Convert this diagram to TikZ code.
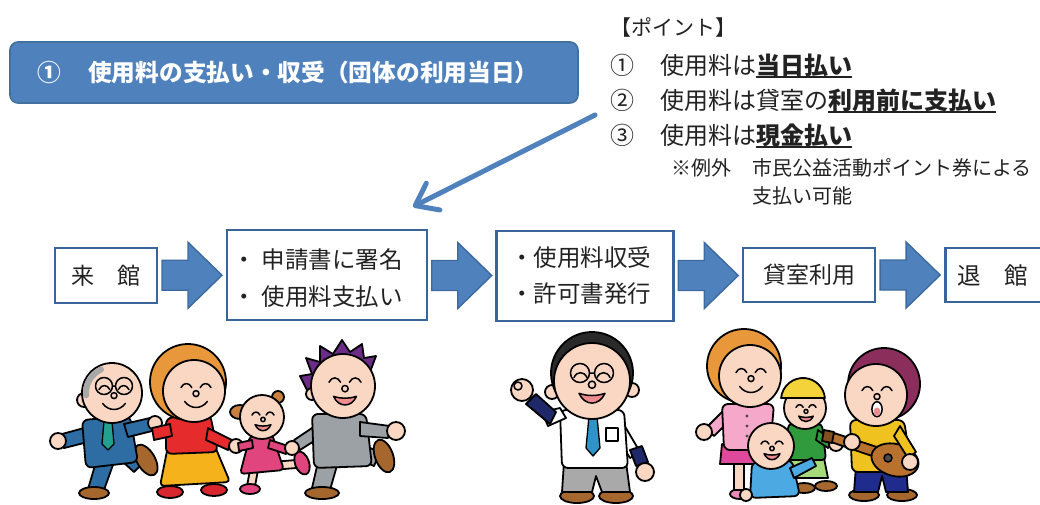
\documentclass[tikz,border=0pt]{standalone}
\usepackage{fontspec}
\setmainfont{Noto Sans CJK JP}
\usetikzlibrary{arrows.meta,calc}

\definecolor{hdrfill}{HTML}{4F81BD}
\definecolor{hdrline}{HTML}{41719C}
\definecolor{boxline}{HTML}{3A659A}
\definecolor{arrline}{HTML}{3C6A9E}
\definecolor{txt}{HTML}{222222}
% cartoon palette
\definecolor{skin}{HTML}{FAD7C3}
\definecolor{hairgray}{HTML}{A8A8A8}
\definecolor{suitA}{HTML}{2E6DA4}
\definecolor{tieteal}{HTML}{23A08E}
\definecolor{shoe}{HTML}{A5672E}
\definecolor{hairO}{HTML}{E8983A}
\definecolor{sweaterR}{HTML}{E52B2B}
\definecolor{skirtY}{HTML}{F6B21B}
\definecolor{shoeR}{HTML}{D7262E}
\definecolor{hairBr}{HTML}{C9803F}
\definecolor{pinkD}{HTML}{E0457E}
\definecolor{suitG}{HTML}{9CA1A6}
\definecolor{hairP}{HTML}{6A2C86}
\definecolor{pantsG}{HTML}{A9A9A9}
\definecolor{navy}{HTML}{1F2869}
\definecolor{tieB}{HTML}{2E93C6}
\definecolor{hairK}{HTML}{2A2A2A}
\definecolor{cardP}{HTML}{F5A8CA}
\definecolor{skirtM}{HTML}{E0489B}
\definecolor{pinkS}{HTML}{EE8AB8}
\definecolor{shortsG}{HTML}{A6D97A}
\definecolor{shirtG}{HTML}{2F9B3C}
\definecolor{capY}{HTML}{F3D23A}
\definecolor{babyB}{HTML}{4CA9E2}
\definecolor{pantsN}{HTML}{1F2C8E}
\definecolor{shirtY}{HTML}{EFC21F}
\definecolor{guitarB}{HTML}{B9712E}
\definecolor{hairM}{HTML}{8C2E5C}
\definecolor{tongue}{HTML}{EE8C8E}

% bold text with a rule underneath
\newcommand\ulbold[1]{{\setbox0\hbox{\bfseries #1}\rlap{\rule[-3.8pt]{\wd0}{1.5pt}}\box0}}

\tikzset{
  titlebox/.style={draw=hdrline, line width=1.6pt, fill=hdrfill, rounded corners=8pt, inner sep=0pt},
  hdrtext/.style={text=white, font=\fontsize{23.7}{23.7}\selectfont\bfseries, inner sep=0pt, anchor=base west},
  pthead/.style={text=txt, font=\fontsize{21}{21}\selectfont, inner sep=0pt, anchor=base west},
  ptline/.style={text=txt, font=\fontsize{24}{24}\selectfont, inner sep=0pt, anchor=base west},
  ptnote/.style={text=txt, font=\fontsize{20}{20}\selectfont, inner sep=0pt, anchor=base west},
  flowbox/.style={draw=boxline, line width=2.6pt, fill=white, inner sep=0pt,
                  text=txt, font=\fontsize{23}{23}\selectfont},
  flowtext/.style={text=txt, font=\fontsize{23.5}{23.5}\selectfont, inner sep=0pt, anchor=base west},
  pointer/.style={draw=hdrfill, line width=5pt, line cap=round,
                  -{Straight Barb[length=20pt,width=30pt,round]}},
  pics/blockarrow/.style={code={
    \draw[fill=hdrfill, draw=arrline, line width=1.4pt, line join=miter]
      (-30,-15) -- (-4,-15) -- (-4,-33) -- (30,0) -- (-4,33) -- (-4,15) -- (-30,15) -- cycle;
  }},
  toonline/.style={draw=black, line width=1.8pt, line join=round, line cap=round},
  toonfeat/.style={draw=black, line width=1.5pt, line cap=round, line join=round},
  pics/toonsmile/.style={code={
    \draw[toonfeat] (-0.5,-0.18) .. controls (-0.42,-0.36) and (-0.22,-0.36) .. (-0.14,-0.18);
    \draw[toonfeat] (0.14,-0.18) .. controls (0.22,-0.36) and (0.42,-0.36) .. (0.5,-0.18);
    \draw[toonfeat, fill=skin] (0,0.02) circle (0.1);
    \draw[toonfeat] (-0.38,0.28) .. controls (-0.18,0.55) and (0.18,0.55) .. (0.38,0.28);
  }},
  pics/toontalk/.style={code={
    \draw[toonfeat] (-0.5,-0.18) .. controls (-0.42,-0.36) and (-0.22,-0.36) .. (-0.14,-0.18);
    \draw[toonfeat] (0.14,-0.18) .. controls (0.22,-0.36) and (0.42,-0.36) .. (0.5,-0.18);
    \draw[toonfeat, fill=skin] (0,0.02) circle (0.1);
    \draw[toonfeat, fill=tongue] (-0.36,0.26) .. controls (-0.2,0.62) and (0.2,0.62) .. (0.36,0.26)
      .. controls (0.12,0.34) and (-0.12,0.34) .. (-0.36,0.26) -- cycle;
  }},
  pics/toonsing/.style={code={
    \draw[toonfeat] (-0.5,-0.18) .. controls (-0.42,-0.36) and (-0.22,-0.36) .. (-0.14,-0.18);
    \draw[toonfeat] (0.14,-0.18) .. controls (0.22,-0.36) and (0.42,-0.36) .. (0.5,-0.18);
    \draw[toonfeat, fill=skin] (0,0.02) circle (0.1);
    \draw[toonfeat, fill=white] (0,0.44) ellipse (0.17 and 0.25);
    \fill[tongue] (0,0.52) ellipse (0.11 and 0.14);
  }},
}

\begin{document}
\begin{tikzpicture}[x=1pt,y=-1pt]
\useasboundingbox (0,0) rectangle (1040,504);
\fill[white] (0,0) rectangle (1040,504);

% ---------- heading bar ----------
\node[titlebox, minimum width=568pt, minimum height=61pt] (title) at (294,72.5) {};
\node[hdrtext] (titlenum) at (37,81.5) {①};
\node[hdrtext] (titletext) at (88,81.5) {使用料の支払い・収受（団体の利用当日）};

% ---------- points ----------
\node[pthead] (pthead) at (610,35) {【ポイント】};
\node[ptline] (pn1) at (610,74) {①};
\node[ptline] (pt1) at (660,74) {使用料は\ulbold{当日払い}};
\node[ptline] (pn2) at (610,109) {②};
\node[ptline] (pt2) at (660,109) {使用料は貸室の\ulbold{利用前に支払い}};
\node[ptline] (pn3) at (610,144) {③};
\node[ptline] (pt3) at (660,144) {使用料は\ulbold{現金払い}};
\node[ptnote] (ex) at (671,175.6) {※例外};
\node[ptnote] (ex1) at (752,175.6) {市民公益活動ポイント券による};
\node[ptnote] (ex2) at (752,203.6) {支払い可能};

% ---------- flow ----------
\node[flowbox, minimum width=102pt, minimum height=55pt] (b1) at (106,275.5) {来　館};
\node[flowbox, minimum width=200pt, minimum height=90pt] (b2) at (327,275) {};
\node[flowtext] (b2a) at (232,268) {・\hspace{0.25em}申請書に署名};
\node[flowtext] (b2b) at (232,305) {・\hspace{0.25em}使用料支払い};
\node[flowbox, minimum width=177pt, minimum height=90pt] (b3) at (585,276) {};
\node[flowtext] (b3a) at (510,266.7) {・使用料収受};
\node[flowtext] (b3b) at (510,302.7) {・許可書発行};
\node[flowbox, minimum width=132pt, minimum height=54pt] (b4) at (809,275) {貸室利用};
\node[flowbox, minimum width=132pt, minimum height=54pt, anchor=west] (b5) at (944,275) {};
\node[flowtext] (b5t) at (957,284) {退　館};

\pic at ($(b1.east)!0.5!(b2.west)$) {blockarrow};
\pic at ($(b2.east)!0.5!(b3.west)$) {blockarrow};
\pic at ($(b3.east)!0.5!(b4.west)$) {blockarrow};
\pic at ($(b4.east)!0.5!(b5.west)$) {blockarrow};

% pointer from the points list down to the application step
\coordinate (ptrtail) at (595,115);
\coordinate (ptrtip) at ($(b2.north)+(86,-22)$);
\draw[pointer] (ptrtail) -- (ptrtip);

% ---------- visitors arriving ----------
% grandfather
\draw[toonline, fill=suitA] (96,462) -- (88,489) -- (104,490) -- (114,462) -- cycle;
\draw[toonline, fill=shoe] (94,493) ellipse (15 and 6);
\draw[toonline, fill=suitA] (112,452) -- (134,472) -- (146,460) -- (126,442) -- cycle;
\draw[toonline, fill=shoe, rotate around={30:(146,460)}] (146,460) ellipse (9 and 17);
\draw[toonline, fill=suitA] (84,428) -- (62,434) -- (64,448) -- (88,442) -- cycle;
\draw[toonline, fill=skin] (58,441) circle (8);
\draw[toonline, fill=suitA, rounded corners=6pt] (82,420) -- (130,416) -- (138,462) -- (86,468) -- cycle;
\draw[toonline, fill=tieteal, line width=1.3pt] (104,421) -- (112,421) -- (114,444) -- (108,450) -- (102,444) -- cycle;
\draw[toonline, fill=suitA] (124,424) -- (150,418) -- (152,431) -- (128,437) -- cycle;
\draw[toonline, fill=skin] (155,423) circle (7);
\draw[toonline, fill=skin] (84,400) circle (7);
\draw[toonline, fill=skin] (112,393) circle (30);
\draw[line width=6pt, hairgray, line cap=round] ([shift={(112,393)}]175:26) arc[start angle=175, end angle=245, radius=26];
\pic[scale=30] at (114,395) {toonsmile};
\draw[toonfeat] (104,386) circle (8.5) (124,386) circle (8.5) (112.5,386) -- (115.5,386);

% mother
\draw[toonline, fill=shoeR] (170,492) ellipse (13 and 6);
\draw[toonline, fill=shoeR] (214,490) ellipse (13 and 6);
\draw[toonline, fill=skirtY, rounded corners=4pt] (168,446) -- (214,444) -- (230,482) -- (160,486) -- cycle;
\draw[toonline, fill=sweaterR, rounded corners=6pt] (166,418) -- (210,414) -- (218,452) -- (166,454) -- cycle;
\draw[toonline, fill=sweaterR] (170,424) -- (152,428) -- (154,440) -- (172,436) -- cycle;
\draw[toonline, fill=sweaterR] (208,428) -- (232,440) -- (228,450) -- (206,440) -- cycle;
\draw[toonline, fill=skin] (236,446) circle (7);
\draw[toonline, fill=hairO] (188,382) circle (38);
\draw[toonline, fill=skin] (194,391) circle (31);
\pic[scale=30] at (196,393) {toonsmile};

% daughter
\draw[toonline, fill=hairBr] (240,412) ellipse (10 and 7);
\draw[toonline, fill=hairBr] (278,397) circle (6);
\draw[toonline, fill=skin] (250,470) -- (247,486) -- (255,486) -- (258,470) -- cycle;
\draw[toonline, fill=pinkD] (250,489) ellipse (10 and 5);
\draw[toonline, fill=skin] (272,462) -- (296,460) -- (296,468) -- (272,470) -- cycle;
\draw[toonline, fill=pinkD, rotate around={20:(302,463)}] (302,463) ellipse (7 and 12);
\draw[toonline, fill=pinkD, rounded corners=4pt] (250,436) -- (272,434) -- (284,470) -- (240,474) -- cycle;
\draw[toonline, fill=pinkD] (252,440) -- (238,443) -- (239,451) -- (253,448) -- cycle;
\draw[toonline, fill=pinkD] (270,440) -- (288,446) -- (286,454) -- (268,448) -- cycle;
\draw[toonline, fill=skin] (262,417) circle (22);
\pic[scale=22] at (263,419) {toontalk};

% father
\draw[toonline, fill=suitG] (318,462) -- (312,488) -- (330,490) -- (338,462) -- cycle;
\draw[toonline, fill=shoe] (322,493) ellipse (17 and 6);
\draw[toonline, fill=suitG] (342,452) -- (374,466) -- (380,452) -- (350,440) -- cycle;
\draw[toonline, fill=shoe, rotate around={20:(384,456)}] (384,456) ellipse (9 and 17);
\draw[toonline, fill=suitG] (318,424) -- (294,440) -- (300,450) -- (322,436) -- cycle;
\draw[toonline, fill=skin] (292,448) circle (7);
\draw[toonline, fill=suitG, rounded corners=6pt] (312,414) -- (366,414) -- (372,466) -- (314,468) -- cycle;
\draw[toonline, fill=suitG] (360,422) -- (390,426) -- (388,438) -- (360,436) -- cycle;
\draw[toonline, fill=skin] (396,431) circle (9);
\draw[toonline, fill=hairP] (308,392) -- (300,376) -- (312,374) -- (306,358) -- (320,362) -- (320,346)
  -- (333,354) -- (342,340) -- (350,352) -- (362,344) -- (364,358) -- (376,356) -- (370,372) -- (340,362) -- cycle;
\draw[toonline, fill=skin] (312,394) circle (6);
\draw[toonline, fill=skin] (343,386) circle (32);
\pic[scale=32] at (345,388) {toontalk};

% ---------- receptionist ----------
\draw[toonline, fill=shoe] (577,496) ellipse (17 and 7);
\draw[toonline, fill=shoe] (616,496) ellipse (17 and 7);
\draw[toonline, fill=pantsG] (564,462) -- (626,462) -- (630,492) -- (602,492) -- (596,476) -- (592,492) -- (562,492) -- cycle;
\draw[toonline, fill=white] (620,418) -- (640,452) -- (630,458) -- (612,430) -- cycle;
\draw[toonline, fill=navy] (630,450) -- (642,446) -- (648,462) -- (636,466) -- cycle;
\draw[toonline, fill=skin] (645,472) circle (9);
\draw[toonline, fill=white, rounded corners=6pt] (560,410) -- (624,410) -- (628,468) -- (562,468) -- cycle;
\draw[toonline, fill=tieB, line width=1.3pt] (589,416) -- (597,416) -- (600,448) -- (593,456) -- (586,448) -- cycle;
\draw[toonfeat, line width=1.2pt] (606,428) rectangle (618,441);
\draw[toonline, fill=white] (566,418) -- (548,426) -- (542,412) -- (560,408) -- cycle;
\draw[toonline, fill=navy] (550,424) -- (526,404) -- (536,394) -- (556,412) -- cycle;
\draw[toonline, fill=skin] (522,390) circle (11);
\draw[toonfeat] (518,386) circle (4);
\draw[toonline, fill=skin] (552,392) circle (7);
\draw[toonline, fill=skin] (632,390) circle (7);
\draw[toonline, fill=hairK] (592,373) circle (41);
\draw[toonline, fill=skin] (592,381) circle (38);
\pic[scale=36] at (592,384) {toontalk};
\draw[toonfeat] (580,373) circle (9.5) (604,373) circle (9.5) (589.5,373) -- (594.5,373);

% ---------- family using the room ----------
% mother
\draw[toonline, fill=pinkS] (740,494) ellipse (10 and 5);
\draw[toonline, fill=skin] (734,460) -- (734,490) -- (744,490) -- (744,460) -- cycle;
\draw[toonline, fill=skirtM] (722,444) -- (768,444) -- (770,464) -- (720,464) -- cycle;
\draw[toonline, fill=cardP] (724,410) -- (706,428) -- (714,436) -- (728,422) -- cycle;
\draw[toonline, fill=skin] (704,432) circle (8);
\draw[toonline, fill=cardP, rounded corners=6pt] (722,404) -- (774,404) -- (770,450) -- (724,450) -- cycle;
\fill[black!70] (747,416) circle (1.6) (747,426) circle (1.6) (747,436) circle (1.6);
\draw[toonline, fill=hairO] (744,366) circle (37);
\draw[toonline, fill=skin] (750,376) circle (31);
\pic[scale=30] at (751,378) {toonsmile};

% boy
\draw[toonline, fill=shoe] (804,488) ellipse (11 and 5);
\draw[toonline, fill=shoe] (826,486) ellipse (11 and 5);
\draw[toonline, fill=shortsG] (790,458) -- (824,458) -- (828,478) -- (790,478) -- cycle;
\draw[toonline, fill=shirtG, rounded corners=4pt] (788,424) -- (822,424) -- (826,460) -- (788,460) -- cycle;
\draw[toonline, fill=shirtG] (818,430) -- (832,440) -- (828,448) -- (816,440) -- cycle;
\draw[toonline, fill=skin] (836,444) circle (7);
\draw[toonline, fill=skin] (805,408) circle (21);
\draw[toonline, fill=capY] ([shift={(803,400)}]185:22) arc[start angle=185, end angle=355, radius=22] -- cycle;
\pic[scale=20] at (806,411) {toontalk};

% baby
\draw[toonline, fill=babyB, rounded corners=6pt] (752,462) -- (792,460) -- (800,496) -- (750,498) -- cycle;
\draw[toonline, fill=babyB] (790,468) -- (812,458) -- (816,466) -- (794,478) -- cycle;
\draw[toonline, fill=skin] (746,495) circle (6);
\draw[toonline, fill=skin] (771,446) circle (23);
\pic[scale=22] at (772,448) {toontalk};

% guitarist
\draw[toonline, fill=shoe] (864,495) ellipse (15 and 6);
\draw[toonline, fill=shoe] (902,495) ellipse (15 and 6);
\draw[toonline, fill=pantsN] (856,466) -- (906,466) -- (908,492) -- (886,492) -- (882,476) -- (878,492) -- (854,492) -- cycle;
\draw[toonline, fill=shirtY, rounded corners=6pt] (850,420) -- (904,420) -- (912,472) -- (852,472) -- cycle;
\draw[toonline, fill=guitarB] (880,448) -- (834,433) -- (831,442) -- (878,458) -- cycle;
\draw[toonline, fill=guitarB!70!black] (834,432) -- (824,430) -- (822,441) -- (832,443) -- cycle;
\draw[toonline, fill=guitarB, rotate around={-15:(895,460)}] (895,460) ellipse (24 and 16);
\draw[toonfeat, fill=black!70] (888,458) circle (4);
\draw[toonline, fill=skin] (852,442) circle (8);
\draw[toonline, fill=shirtY] (900,426) -- (916,452) -- (908,458) -- (894,436) -- cycle;
\draw[toonline, fill=skin] (910,462) circle (8);
\draw[toonline, fill=hairM] (884,384) circle (36);
\draw[toonline, fill=skin] (876,395) circle (31);
\pic[scale=30] at (877,396) {toonsing};
\end{tikzpicture}
\end{document}
